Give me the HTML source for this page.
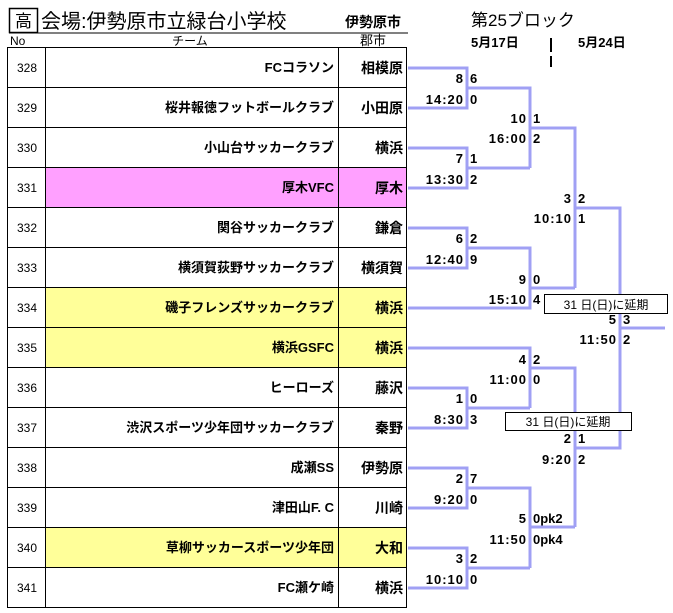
<!DOCTYPE html>
<html><head><meta charset="utf-8"><style>
body{margin:0;background:#fff;width:673px;height:613px;overflow:hidden}
svg{position:absolute;left:0;top:0}
text{font-family:"Liberation Sans","Noto Sans CJK JP",sans-serif}
</style></head><body>
<svg width="673" height="613" viewBox="0 0 673 613">
<!-- header -->
<rect x="9.5" y="8.5" width="28" height="24" fill="none" stroke="#000" stroke-width="1.5"/>
<text x="23.5" y="27" font-size="17" text-anchor="middle">高</text>
<text x="41" y="28" font-size="20">会場:伊勢原市立緑台小学校</text>
<text x="345" y="27" font-size="14" font-weight="bold">伊勢原市</text>
<line x1="9" y1="33" x2="408" y2="33" stroke="#000" stroke-width="1"/>
<text x="471" y="26" font-size="17">第25ブロック</text>
<text x="10" y="45" font-size="12">No</text>
<text x="190" y="45" font-size="12" text-anchor="middle">チーム</text>
<text x="373" y="45" font-size="13" text-anchor="middle">郡市</text>
<text x="471" y="47" font-size="13" font-weight="bold">5月17日</text>
<text x="578" y="47" font-size="13" font-weight="bold">5月24日</text>
<line x1="551" y1="38" x2="551" y2="52" stroke="#000" stroke-width="2"/>
<line x1="551" y1="56" x2="551" y2="67" stroke="#000" stroke-width="2"/>
<!-- fills -->
<rect x="45" y="167" width="361" height="40" fill="#ffa0ff"/>
<rect x="45" y="287" width="361" height="80" fill="#ffff99"/>
<rect x="45" y="527" width="361" height="40" fill="#ffff99"/>
<!-- table grid -->
<g stroke="#000" stroke-width="1" fill="none">
<rect x="7.5" y="47.5" width="399" height="560"/>
<line x1="45.5" y1="47" x2="45.5" y2="607"/>
<line x1="338.5" y1="47" x2="338.5" y2="607"/>
<path d="M7 87.5H407M7 127.5H407M7 167.5H407M7 207.5H407M7 247.5H407M7 287.5H407M7 327.5H407M7 367.5H407M7 407.5H407M7 447.5H407M7 487.5H407M7 527.5H407M7 567.5H407"/>
</g>
<g font-size="12" text-anchor="middle">
<text x="27" y="72">328</text><text x="27" y="112">329</text><text x="27" y="152">330</text><text x="27" y="192">331</text><text x="27" y="232">332</text><text x="27" y="272">333</text><text x="27" y="312">334</text><text x="27" y="352">335</text><text x="27" y="392">336</text><text x="27" y="432">337</text><text x="27" y="472">338</text><text x="27" y="512">339</text><text x="27" y="552">340</text><text x="27" y="592">341</text>
</g>
<g font-size="13" font-weight="bold" text-anchor="end">
<text x="334" y="72">FCコラソン</text>
<text x="334" y="112">桜井報徳フットボールクラブ</text>
<text x="334" y="152">小山台サッカークラブ</text>
<text x="334" y="192">厚木VFC</text>
<text x="334" y="232">関谷サッカークラブ</text>
<text x="334" y="272">横須賀荻野サッカークラブ</text>
<text x="334" y="312">磯子フレンズサッカークラブ</text>
<text x="334" y="352">横浜GSFC</text>
<text x="334" y="392">ヒーローズ</text>
<text x="334" y="432">渋沢スポーツ少年団サッカークラブ</text>
<text x="334" y="472">成瀬SS</text>
<text x="334" y="512">津田山F. C</text>
<text x="334" y="552">草柳サッカースポーツ少年団</text>
<text x="334" y="592">FC瀬ケ崎</text>
</g>
<g font-size="14" font-weight="bold" text-anchor="end">
<text x="403" y="73">相模原</text><text x="403" y="113">小田原</text><text x="403" y="153">横浜</text><text x="403" y="193">厚木</text><text x="403" y="233">鎌倉</text><text x="403" y="273">横須賀</text><text x="403" y="313">横浜</text><text x="403" y="353">横浜</text><text x="403" y="393">藤沢</text><text x="403" y="433">秦野</text><text x="403" y="473">伊勢原</text><text x="403" y="513">川崎</text><text x="403" y="553">大和</text><text x="403" y="593">横浜</text>
</g>
<!-- bracket -->
<g stroke="#a0a0f4" stroke-width="3" fill="none">
<path d="M408 68H467V108H408M467 88H530V168M408 148H467V188H408M467 168H530M530 128H575V288"/>
<path d="M408 228H467V268H408M467 248H530V308H408M530 288H575"/>
<path d="M575 208H620V448H575M620 328H665"/>
<path d="M408 348H530V408M408 388H467V428H408M467 408H530M530 368H575V527"/>
<path d="M408 468H467V508H408M467 488H530V568M408 548H467V588H408M467 568H530M530 527H575"/>
</g>
<g font-size="13" font-weight="bold" text-anchor="end" letter-spacing="1">
<text x="464" y="83">8</text><text x="464" y="104">14:20</text>
<text x="527" y="123">10</text><text x="527" y="143">16:00</text>
<text x="464" y="163">7</text><text x="464" y="184">13:30</text>
<text x="572" y="203">3</text><text x="572" y="223">10:10</text>
<text x="464" y="243">6</text><text x="464" y="264">12:40</text>
<text x="527" y="284">9</text><text x="527" y="304">15:10</text>
<text x="617" y="324">5</text><text x="617" y="344">11:50</text>
<text x="527" y="364">4</text><text x="527" y="384">11:00</text>
<text x="464" y="403">1</text><text x="464" y="424">8:30</text>
<text x="572" y="443">2</text><text x="572" y="464">9:20</text>
<text x="464" y="483">2</text><text x="464" y="504">9:20</text>
<text x="527" y="523">5</text><text x="527" y="544">11:50</text>
<text x="464" y="563">3</text><text x="464" y="584">10:10</text>
</g>
<g font-size="13" font-weight="bold">
<text x="470" y="83">6</text><text x="470" y="104">0</text>
<text x="533" y="123">1</text><text x="533" y="143">2</text>
<text x="470" y="163">1</text><text x="470" y="184">2</text>
<text x="578" y="203">2</text><text x="578" y="223">1</text>
<text x="470" y="243">2</text><text x="470" y="264">9</text>
<text x="533" y="284">0</text><text x="533" y="304">4</text>
<text x="623" y="324">3</text><text x="623" y="344">2</text>
<text x="533" y="364">2</text><text x="533" y="384">0</text>
<text x="470" y="403">0</text><text x="470" y="424">3</text>
<text x="578" y="443">1</text><text x="578" y="464">2</text>
<text x="470" y="483">7</text><text x="470" y="504">0</text>
<text x="533" y="523">0pk2</text><text x="533" y="544">0pk4</text>
<text x="470" y="563">2</text><text x="470" y="584">0</text>
</g>
<rect x="544.5" y="294.5" width="123" height="19" fill="#fff" stroke="#000" stroke-width="1"/>
<text x="606" y="309" font-size="12" text-anchor="middle">31 日(日)に延期</text>
<rect x="505.5" y="412.5" width="126" height="18" fill="#fff" stroke="#000" stroke-width="1"/>
<text x="568" y="426" font-size="12" text-anchor="middle">31 日(日)に延期</text>
</svg>
</body></html>
